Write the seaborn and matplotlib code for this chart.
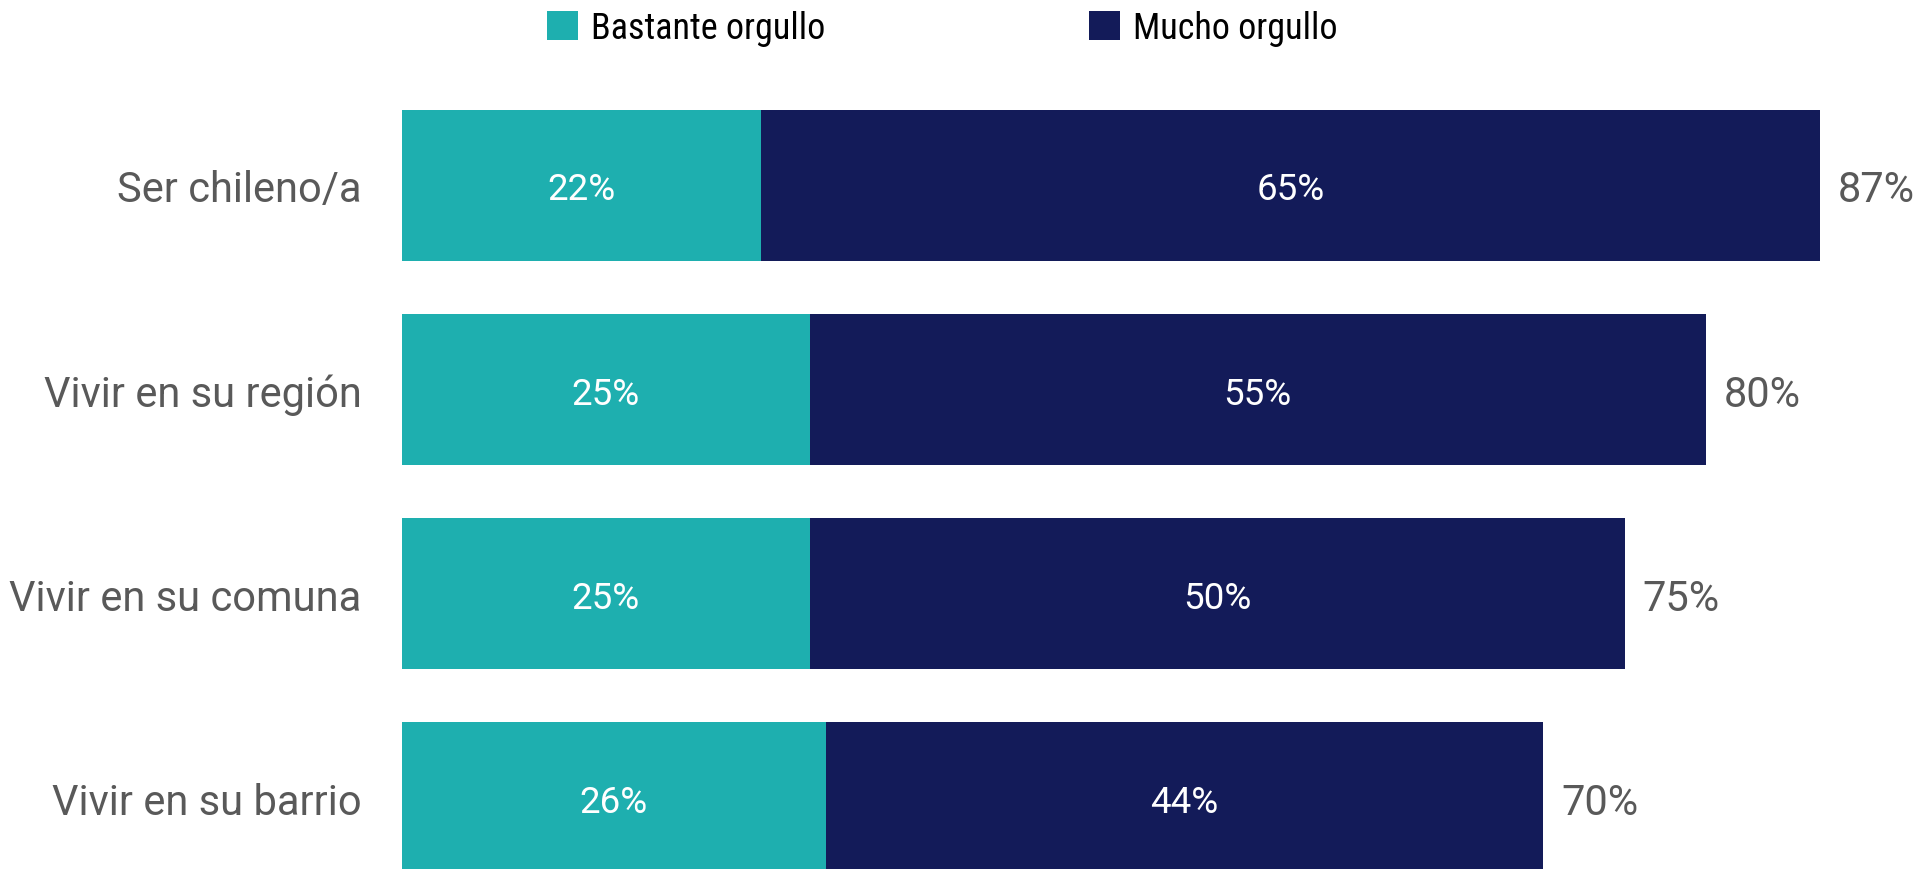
import matplotlib
matplotlib.use("Agg")
import matplotlib.pyplot as plt
from matplotlib.patches import Patch
import pandas as pd
import seaborn as sns

categorias = ["Ser chileno/a", "Vivir en su región", "Vivir en su comuna", "Vivir en su barrio"]
bastante = [22, 25, 25, 26]
mucho = [65, 55, 50, 44]
series = ["Bastante orgullo", "Mucho orgullo"]

TEAL = "#1EAFAF"
NAVY = "#131B59"
GRIS = "#595959"

sns.set_theme(style="white")
plt.rcParams["font.family"] = ["Roboto", "DejaVu Sans"]

df = pd.DataFrame({"categoria": categorias, "bastante": bastante, "mucho": mucho})
df["total"] = df["bastante"] + df["mucho"]

W, H, DPI = 1918, 870, 100
fig = plt.figure(figsize=(W / DPI, H / DPI), dpi=DPI)
ax = fig.add_axes([402 / W, 0, 1 - 402 / W, 1])

# stacked bars: the full total in navy, the "bastante" share laid over it in teal
sns.barplot(data=df, x="total", y="categoria", orient="h", color=NAVY,
            width=0.74, saturation=1, linewidth=0, ax=ax)
sns.barplot(data=df, x="bastante", y="categoria", orient="h", color=TEAL,
            width=0.74, saturation=1, linewidth=0, ax=ax)

ax.set_xlim(0, (W - 402) / 16.3)
ax.set_ylim(3.35, -0.914)
ax.set_xlabel("")
ax.set_ylabel("")
ax.set_xticks([])
sns.despine(ax=ax, left=True, bottom=True)
ax.tick_params(axis="y", length=0, pad=29, labelsize=30, labelcolor=GRIS)
for t in ax.get_yticklabels():
    t.set_verticalalignment("center_baseline")

for i, row in df.iterrows():
    ax.text(row["bastante"] / 2, i, f"{row['bastante']}%", ha="center",
            va="center_baseline", color="white", fontsize=26.5)
    ax.text(row["bastante"] + row["mucho"] / 2, i, f"{row['mucho']}%", ha="center",
            va="center_baseline", color="white", fontsize=26.5)
    ax.text(row["total"] + 1.1, i, f"{row['total']}%", ha="left",
            va="center_baseline", color=GRIS, fontsize=30)

handles = [Patch(facecolor=TEAL, edgecolor="none"), Patch(facecolor=NAVY, edgecolor="none")]
leg = fig.legend(handles, series, loc="center left", bbox_to_anchor=(547 / W, 1 - 29 / H),
                 ncol=2, frameon=False, handlelength=0.85, handleheight=0.85,
                 handletextpad=0.37, columnspacing=7.3, borderaxespad=0, borderpad=0,
                 prop={"family": ["Roboto Condensed", "Roboto", "DejaVu Sans"], "size": 26})
for t in leg.get_texts():
    t.set_color("black")

fig.savefig("out.png", dpi=DPI)
